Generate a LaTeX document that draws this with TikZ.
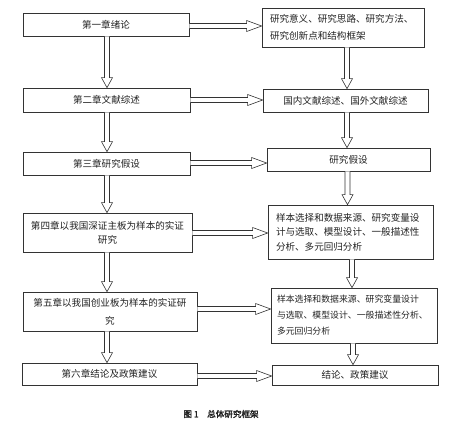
\documentclass[tikz,border=0pt]{standalone}
\usepackage{fontspec}
\newfontfamily\cjk[AutoFakeBold=2.5]{Noto Sans CJK SC}
\usetikzlibrary{calc}
\definecolor{ink}{HTML}{333333}
\definecolor{txt}{HTML}{222222}
\tikzset{
  box/.style={draw=ink, line width=0.7bp, inner xsep=8bp, inner ysep=0bp, text=txt, font=\cjk\fontsize{9.6}{15}\selectfont},
  arrline/.style={draw=ink, line width=0.6bp, fill=white},
}
\newcommand\harr[3]{%
  \path (#1.east |- #3) coordinate (hs) (#2.west |- #3) coordinate (he);
  \draw[arrline] let \p1=(hs), \p2=(he) in
    (\x1,\y1+2.5bp) -- (\x2-15bp,\y1+2.5bp) -- (\x2-15bp,\y1+5.5bp) -- (\x2,\y1)
    -- (\x2-15bp,\y1-5.5bp) -- (\x2-15bp,\y1-2.5bp) -- (\x1,\y1-2.5bp);}
\newcommand\varr[3]{%
  \path (#1.south -| #3) coordinate (vs) (#2.north -| #3) coordinate (ve);
  \draw[arrline] let \p1=(vs), \p2=(ve) in
    (\x1-2.5bp,\y1) -- (\x1-2.5bp,\y2+10bp) -- (\x1-5.5bp,\y2+10bp) -- (\x2,\y2)
    -- (\x1+5.5bp,\y2+10bp) -- (\x1+2.5bp,\y2+10bp) -- (\x1+2.5bp,\y1);}
\begin{document}
\begin{tikzpicture}[x=1bp,y=-1bp]
\useasboundingbox (0,0) rectangle (455,423);
% left column
\node[box, minimum width=166bp, minimum height=23bp, align=center] (L1) at (106,24.5) {第一章绪论};
\node[box, minimum width=167bp, minimum height=24bp, align=center] (L2) at (106.5,100) {第二章文献综述};
\node[box, minimum width=167bp, minimum height=23bp, align=center] (L3) at (106.5,163.5) {第三章研究假设};
\node[box, text width=153bp, minimum height=39bp, align=center, font=\cjk\fontsize{9.6}{14}\selectfont] (L4) at (107.5,232.5) {第四章以我国深证主板为样本的实证\\研究};
\node[box, text width=158bp, minimum height=39bp, align=center, font=\cjk\fontsize{9.6}{18}\selectfont] (L5) at (110,311.5) {第五章以我国创业板为样本的实证研\\究};
\node[box, minimum width=175bp, minimum height=22bp, align=center] (L6) at (109.5,374) {第六章结论及政策建议};
% right column
\node[box, text width=146bp, minimum height=39bp, align=left, font=\cjk\fontsize{9.6}{17}\selectfont] (R1) at (343,27.5) {研究意义、研究思路、研究方法、\\研究创新点和结构框架};
\node[box, minimum width=165bp, minimum height=23bp, align=center] (R2) at (345.5,100.5) {国内文献综述、国外文献综述};
\node[box, minimum width=163bp, minimum height=23bp, align=center] (R3) at (348.5,159.5) {研究假设};
\node[box, text width=149bp, minimum height=54bp, align=left, font=\cjk\fontsize{9.6}{14.5}\selectfont] (R4) at (350.5,232) {样本选择和数据来源、研究变量设\\计与选取、模型设计、一般描述性\\分析、多元回归分析};
\node[box, inner xsep=6bp, text width=154bp, minimum height=55bp, align=left, font=\cjk\fontsize{8.9}{16}\selectfont] (R5) at (354,315.5) {样本选择和数据来源、研究变量设计\\与选取、模型设计、一般描述性分析、\\多元回归分析};
\node[box, minimum width=166bp, minimum height=20bp, align=center] (R6) at (355,375) {结论、政策建议};
% caption
\node[text=txt, font=\cjk\bfseries\fontsize{8.6}{10}\selectfont] (cap) at (221,414) {图 1\hspace{1em}总体研究框架};
% helper coordinates
\coordinate (ya) at (0,26);
\coordinate (yb) at (0,100);
\coordinate (yc) at (0,163);
\coordinate (yd) at (0,233);
\coordinate (ye) at (0,309);
\coordinate (yf) at (0,376);
\coordinate (xl) at (107,0);
\coordinate (xra) at (347,0);
\coordinate (xrb) at (347.5,0);
\coordinate (xrc) at (352,0);
\coordinate (xrd) at (353,0);
% horizontal arrows
\harr{L1}{R1}{ya}
\harr{L2}{R2}{yb}
\harr{L3}{R3}{yc}
\harr{L4}{R4}{yd}
\harr{L5}{R5}{ye}
\harr{L6}{R6}{yf}
% left vertical arrows
\varr{L1}{L2}{xl}
\varr{L2}{L3}{xl}
\varr{L3}{L4}{xl}
\varr{L4}{L5}{xl}
\varr{L5}{L6}{xl}
% right vertical arrows
\varr{R1}{R2}{xra}
\varr{R2}{R3}{xra}
\varr{R3}{R4}{xrb}
\varr{R4}{R5}{xrc}
\varr{R5}{R6}{xrd}
\end{tikzpicture}
\end{document}
